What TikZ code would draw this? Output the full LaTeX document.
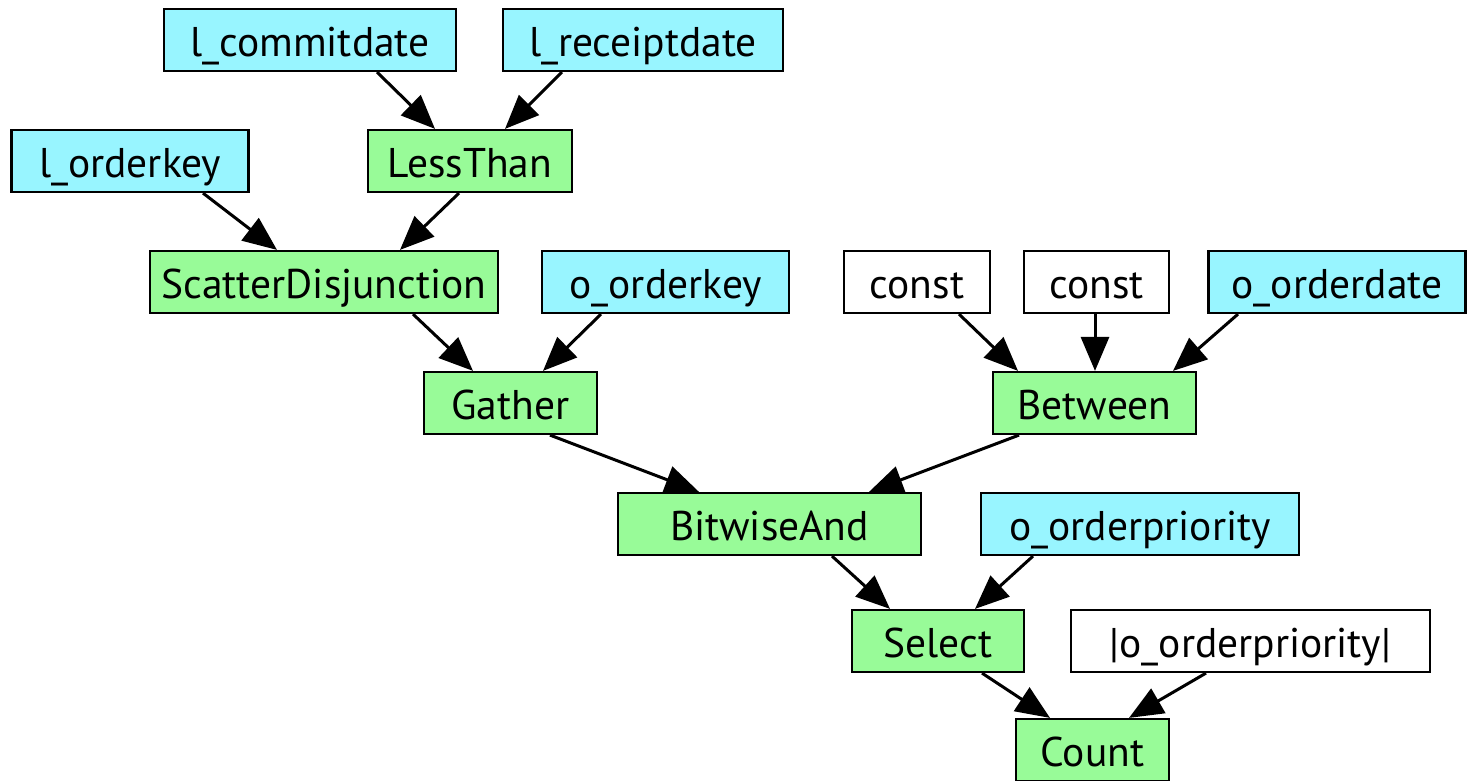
\documentclass[tikz,border=0pt]{standalone}
\usepackage{fontspec}
\setmainfont{PT Sans}
\usetikzlibrary{arrows.meta}
\definecolor{colfill}{HTML}{98F5FF}
\definecolor{opfill}{HTML}{98FB98}
\tikzset{
  box/.style={draw=black, line width=2.2pt, rectangle, inner sep=0pt,
    minimum height=62pt, font=\fontsize{41.5}{42}\selectfont,
    text height=33pt, text depth=0pt},
  colbox/.style={box, fill=colfill},
  opbox/.style={box, fill=opfill},
  constbox/.style={box, fill=white},
  arr/.style={draw=black, line width=3pt, -{Triangle[length=34pt,width=28pt]}}
}
\begin{document}
\begin{tikzpicture}[x=1pt, y=-1pt]
  \useasboundingbox (0,0) rectangle (1467,781);
  % inputs and operators
  \node[colbox, minimum width=292pt] (lcd) at (310,40) {l\_commitdate};
  \node[colbox, minimum width=280pt] (lrd) at (643,40) {l\_receiptdate};
  \node[opbox, minimum width=204pt] (lt) at (470,161) {LessThan};
  \node[colbox, minimum width=237pt] (lok) at (130,161) {l\_orderkey};
  \node[opbox, minimum width=348pt] (sd) at (324,282) {ScatterDisjunction};
  \node[colbox, minimum width=247pt] (ook) at (665.5,282) {o\_orderkey};
  \node[constbox, minimum width=146pt] (c1) at (917,282) {const};
  \node[constbox, minimum width=145pt] (c2) at (1096.5,282) {const};
  \node[colbox, minimum width=257pt] (ood) at (1337,282) {o\_orderdate};
  \node[opbox, minimum width=173pt] (ga) at (510.5,403) {Gather};
  \node[opbox, minimum width=203pt] (bt) at (1094.5,403) {Between};
  \node[opbox, minimum width=303pt] (ba) at (769.5,524) {BitwiseAnd};
  \node[colbox, minimum width=318pt] (oop) at (1140,524) {o\_orderpriority};
  \node[opbox, minimum width=172pt] (se) at (938,641) {Select};
  \node[constbox, minimum width=359pt] (abs) at (1250.5,641) {|o\_orderpriority|};
  \node[opbox, minimum width=153pt] (co) at (1092.5,750) {Count};
  % data flow
  \draw[arr] ([xshift=67pt]lcd.south) -- ([xshift=-35pt]lt.north);
  \draw[arr] ([xshift=-81pt]lrd.south) -- ([xshift=35pt]lt.north);
  \draw[arr] ([xshift=73pt]lok.south) -- ([xshift=-47pt]sd.north);
  \draw[arr] ([xshift=-11pt]lt.south) -- ([xshift=76pt]sd.north);
  \draw[arr] ([xshift=89pt]sd.south) -- ([xshift=-37.5pt]ga.north);
  \draw[arr] ([xshift=-64.5pt]ook.south) -- ([xshift=32.5pt]ga.north);
  \draw[arr] ([xshift=42pt]c1.south) -- ([xshift=-76.5pt]bt.north);
  \draw[arr] ([xshift=-1.5pt]c2.south) -- ([xshift=0.5pt]bt.north);
  \draw[arr] ([xshift=-99pt]ood.south) -- ([xshift=78.5pt]bt.north);
  \draw[arr] ([xshift=39.5pt]ga.south) -- ([xshift=-70.5pt]ba.north);
  \draw[arr] ([xshift=-75.5pt]bt.south) -- ([xshift=99.5pt]ba.north);
  \draw[arr] ([xshift=62.5pt]ba.south) -- ([xshift=-48pt]se.north);
  \draw[arr] ([xshift=-107pt]oop.south) -- ([xshift=37pt]se.north);
  \draw[arr] ([xshift=44pt]se.south) -- ([xshift=-42.5pt]co.north);
  \draw[arr] ([xshift=-44.5pt]abs.south) -- ([xshift=36.5pt]co.north);
\end{tikzpicture}
\end{document}
